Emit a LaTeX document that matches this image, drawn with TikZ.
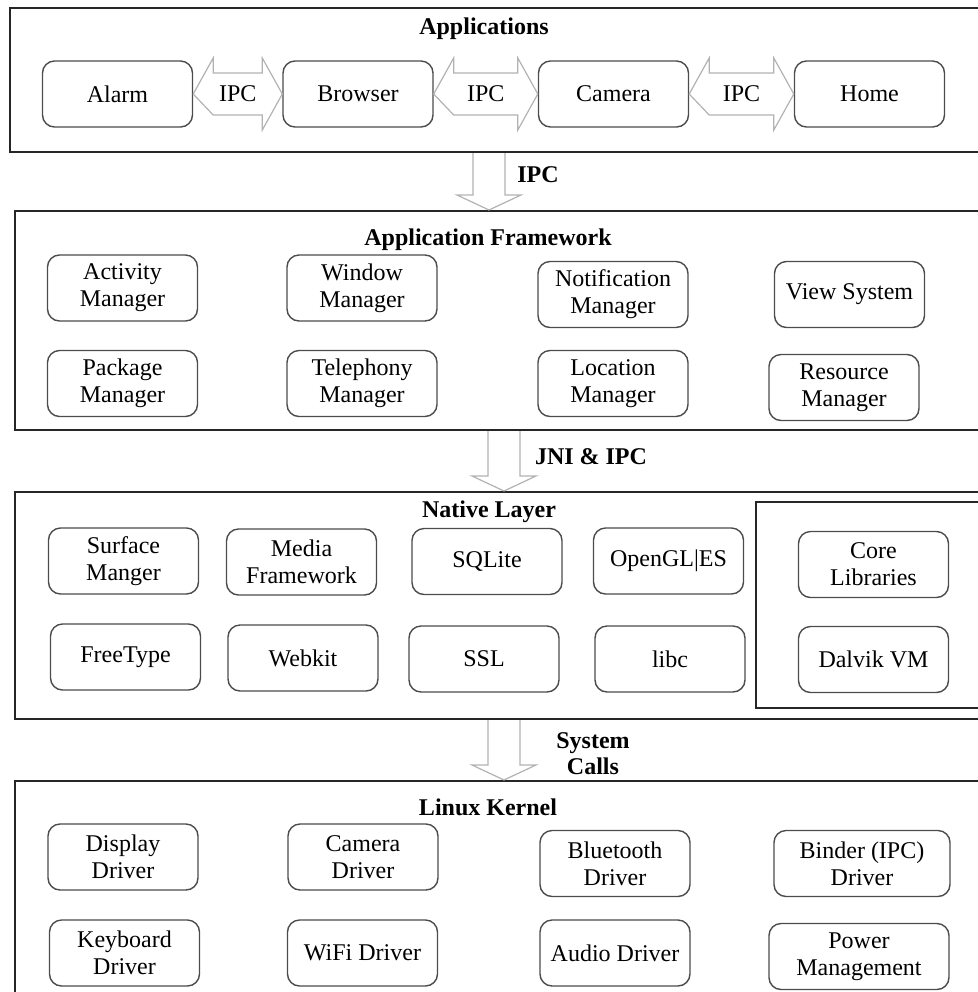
\documentclass[tikz,border=0pt]{standalone}
\usepackage{fontspec}
\setmainfont{Liberation Serif}
\usetikzlibrary{positioning,calc,fit}

\tikzset{
  layer/.style={draw=black!85, line width=1pt, inner sep=0pt},
  comp/.style={draw=black!70, line width=0.7pt, rounded corners=6pt, minimum width=75pt,
    minimum height=33pt, align=center, inner sep=1pt, font=\fontsize{12}{13.5}\selectfont},
  title/.style={font=\fontsize{12}{14}\selectfont\bfseries, anchor=base},
  lbl/.style={font=\fontsize{12}{14}\selectfont},
  blbl/.style={font=\fontsize{12}{13}\selectfont\bfseries, align=center},
  blockarrow/.style={draw=black!30, line width=0.6pt, line join=miter},
}

\begin{document}
\begin{tikzpicture}[x=0.5pt, y=-0.5pt]
    \useasboundingbox (0,0) rectangle (978,992);
    \clip (0,0) rectangle (978,992);

    % layers
    \node[layer, fit={(10,8) (990,152)}] (apps) {};
    \node[layer, fit={(15,211) (990,430)}] (fw) {};
    \node[layer, fit={(15,492) (990,719)}] (native) {};
    \node[layer, fit={(756,502) (990,708)}] (runtime) {};
    \node[layer, fit={(15,781) (990,1000)}] (kernel) {};

    \node[title] (appsT) at (484,34) {Applications};
    \node[title] (fwT) at (488,245) {Application Framework};
    \node[title] (nativeT) at (489,517) {Native Layer};
    \node[title] (kernelT) at (488,815) {Linux Kernel};

    % applications
    \node[comp] (alarm) at (117.5,94) {Alarm};
    \node[comp] (browser) at (358,94) {Browser};
    \node[comp] (camera) at (613.5,94) {Camera};
    \node[comp] (home) at (869.5,94) {Home};

    \foreach \src/\dst/\nm in {alarm/browser/ipcA, browser/camera/ipcB, camera/home/ipcC} {
        \draw[blockarrow] (\src.east) -- ++(20,-36) -- ++(0,15) -- ($(\dst.west)+(-20,-21)$)
            -- ++(0,-15) -- (\dst.west) -- ++(-20,36) -- ++(0,-15) -- ($(\src.east)+(20,21)$) -- cycle;
        \node[lbl] (\nm) at ($(\src.east)!0.5!(\dst.west)$) {IPC};
    }

    % application framework
    \node[comp] (activity) at (122.5,288) {Activity\\Manager};
    \node[comp] (window) at (362,288) {Window\\Manager};
    \node[comp] (notif) at (613,294.5) {Notification\\Manager};
    \node[comp] (view) at (849.5,294.5) {View System};
    \node[comp] (package) at (122.5,383.5) {Package\\Manager};
    \node[comp] (telephony) at (362,383.5) {Telephony\\Manager};
    \node[comp] (location) at (613,383.5) {Location\\Manager};
    \node[comp] (resource) at (844,387.5) {Resource\\Manager};

    % native layer
    \node[comp] (surface) at (123.5,561) {Surface\\Manger};
    \node[comp] (media) at (301.5,562) {Media\\Framework};
    \node[comp] (sqlite) at (487,561.5) {SQLite};
    \node[comp] (opengl) at (668.5,561) {OpenGL|ES};
    \node[comp] (freetype) at (125.5,657) {FreeType};
    \node[comp] (webkit) at (303,658) {Webkit};
    \node[comp] (ssl) at (484,659) {SSL};
    \node[comp] (libc) at (670,659) {libc};
    \node[comp] (corelib) at (873.5,564.5) {Core\\Libraries};
    \node[comp] (dalvik) at (873.5,659.5) {Dalvik VM};

    % linux kernel
    \node[comp] (display) at (123,857) {Display\\Driver};
    \node[comp] (camdrv) at (363,857) {Camera\\Driver};
    \node[comp] (bluetooth) at (615,863.5) {Bluetooth\\Driver};
    \node[comp, minimum width=88pt] (binder) at (862,863.5) {Binder (IPC)\\Driver};
    \node[comp] (keyboard) at (124.5,953) {Keyboard\\Driver};
    \node[comp] (wifi) at (362.5,953) {WiFi Driver};
    \node[comp] (audio) at (615,953) {Audio Driver};
    \node[comp, minimum width=90pt] (power) at (859,956.5) {Power\\Management};

    % arrows between layers
    \coordinate (d1) at (489,0);
    \coordinate (d2) at (504,0);
    \foreach \ax/\hi/\lo in {d1/apps/fw, d2/fw/native, d2/native/kernel} {
        \draw[blockarrow] ($(\ax |- \hi.south)+(-16,0)$) -- ($(\ax |- \lo.north)+(-16,-15)$) -- ++(-16,0)
            -- (\ax |- \lo.north) -- ++(32,-15) -- ++(-16,0) -- ($(\ax |- \hi.south)+(16,0)$);
    }
    \node[blbl] (ipcD) at (538,175) {IPC};
    \node[blbl] (jni) at (591,457) {JNI \& IPC};
    \node[blbl] (syscall) at (593,754) {System\\Calls};
\end{tikzpicture}
\end{document}
